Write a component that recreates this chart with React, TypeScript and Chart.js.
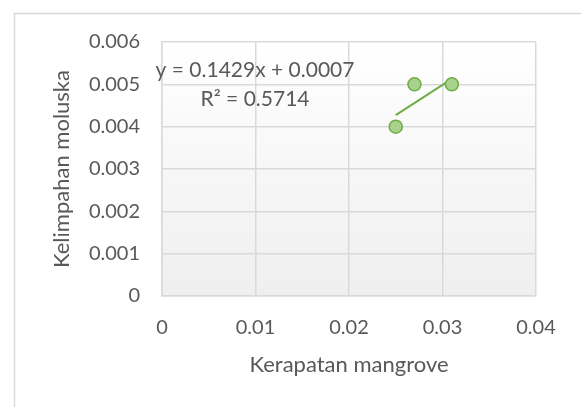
import React, { useEffect, useRef } from "react";
import { Chart, registerables } from "chart.js";

Chart.register(...registerables);

// ---- data ----
const xValues = [0.025, 0.027, 0.031];
const yValues = [0.004, 0.005, 0.005];
const trendSlope = 0.1429;
const trendIntercept = 0.0007;
const trendRange = [0.025, 0.031];
const xTickValues = [0, 0.01, 0.02, 0.03, 0.04];
const yTickValues = [0, 0.001, 0.002, 0.003, 0.004, 0.005, 0.006];
const equationLines = ["y = 0.1429x + 0.0007", "R\u00B2 = 0.5714"];
const equationAnchor = { x: 0.00995, y: 0.00534 };
const xTitle = "Kerapatan mangrove";
const yTitle = "Kelimpahan moluska";

const FONT = "Lato, 'Open Sans', sans-serif";
const TEXT = "#595959";
const GRID = "#d9d9d9";

const framePlugin = {
  id: "frame",
  beforeDraw(chart: any) {
    const { ctx, chartArea, width, height } = chart;
    ctx.save();
    ctx.fillStyle = "#ffffff";
    ctx.fillRect(0, 0, width, height);
    ctx.strokeStyle = GRID;
    ctx.lineWidth = 1.5;
    ctx.beginPath();
    ctx.moveTo(14.5, height);
    ctx.lineTo(14.5, 13.5);
    ctx.lineTo(width, 13.5);
    ctx.stroke();
    const g = ctx.createLinearGradient(0, chartArea.top, 0, chartArea.bottom);
    g.addColorStop(0, "#ffffff");
    g.addColorStop(1, "#efefef");
    ctx.fillStyle = g;
    ctx.fillRect(chartArea.left, chartArea.top, chartArea.right - chartArea.left, chartArea.bottom - chartArea.top);
    ctx.restore();
  },
  afterDraw(chart: any) {
    const { ctx } = chart;
    const xs = chart.scales.x;
    const ys = chart.scales.y;
    const cx = xs.getPixelForValue(equationAnchor.x);
    const cy = ys.getPixelForValue(equationAnchor.y);
    ctx.save();
    ctx.fillStyle = TEXT;
    ctx.font = `21px ${FONT}`;
    ctx.textAlign = "center";
    ctx.textBaseline = "middle";
    equationLines.forEach((t, i) => ctx.fillText(t, cx, cy + i * 29));
    ctx.restore();
  },
};

export default function App() {
  const ref = useRef<HTMLCanvasElement | null>(null);
  useEffect(() => {
    if (!ref.current) return;
    const chart = new Chart(ref.current, {
      type: "scatter",
      data: {
        datasets: [
          {
            label: "data",
            data: xValues.map((x, i) => ({ x, y: yValues[i] })),
            pointRadius: 6.5,
            pointBackgroundColor: "#a9d18e",
            pointBorderColor: "#70ad47",
            pointBorderWidth: 1.5,
            showLine: false,
            order: 1,
          },
          {
            label: "trend",
            type: "line",
            data: trendRange.map((x) => ({ x, y: trendSlope * x + trendIntercept })),
            borderColor: "#70ad47",
            borderWidth: 2,
            pointRadius: 0,
            fill: false,
            order: 2,
          } as any,
        ],
      },
      options: {
        animation: false,
        responsive: false,
        events: [],
        layout: { padding: { left: 40, right: 45, top: 42, bottom: 20 } },
        plugins: { legend: { display: false }, tooltip: { enabled: false } },
        scales: {
          x: {
            type: "linear",
            min: 0,
            max: 0.04,
            afterBuildTicks: (s: any) => {
              s.ticks = xTickValues.map((v) => ({ value: v }));
            },
            afterFit: (s: any) => {
              s.height = 407 - 20 - 296;
            },
            ticks: { color: TEXT, font: { family: FONT, size: 20 }, padding: 20, callback: (v: any) => String(v) },
            grid: { color: GRID, lineWidth: 1.5, drawTicks: false },
            border: { color: GRID, width: 1.5 },
            title: { display: true, text: xTitle, color: TEXT, font: { family: FONT, size: 22 }, padding: { top: 0, bottom: 9 } },
          },
          y: {
            type: "linear",
            min: 0,
            max: 0.006,
            afterBuildTicks: (s: any) => {
              s.ticks = yTickValues.map((v) => ({ value: v }));
            },
            afterFit: (s: any) => {
              s.width = 162 - 40;
            },
            ticks: { color: TEXT, font: { family: FONT, size: 20 }, padding: 22, callback: (v: any) => String(v) },
            grid: { color: GRID, lineWidth: 1.5, drawTicks: false },
            border: { color: GRID, width: 1.5 },
            title: { display: true, text: yTitle, color: TEXT, font: { family: FONT, size: 22 }, padding: { top: 9, bottom: 0 } },
          },
        },
      },
      plugins: [framePlugin],
    });
    return () => chart.destroy();
  }, []);
  return (
    <div style={{ position: "fixed", left: 0, top: 0, width: 581, height: 407 }}>
      <canvas ref={ref} width={581} height={407} style={{ display: "block" }} />
    </div>
  );
}
